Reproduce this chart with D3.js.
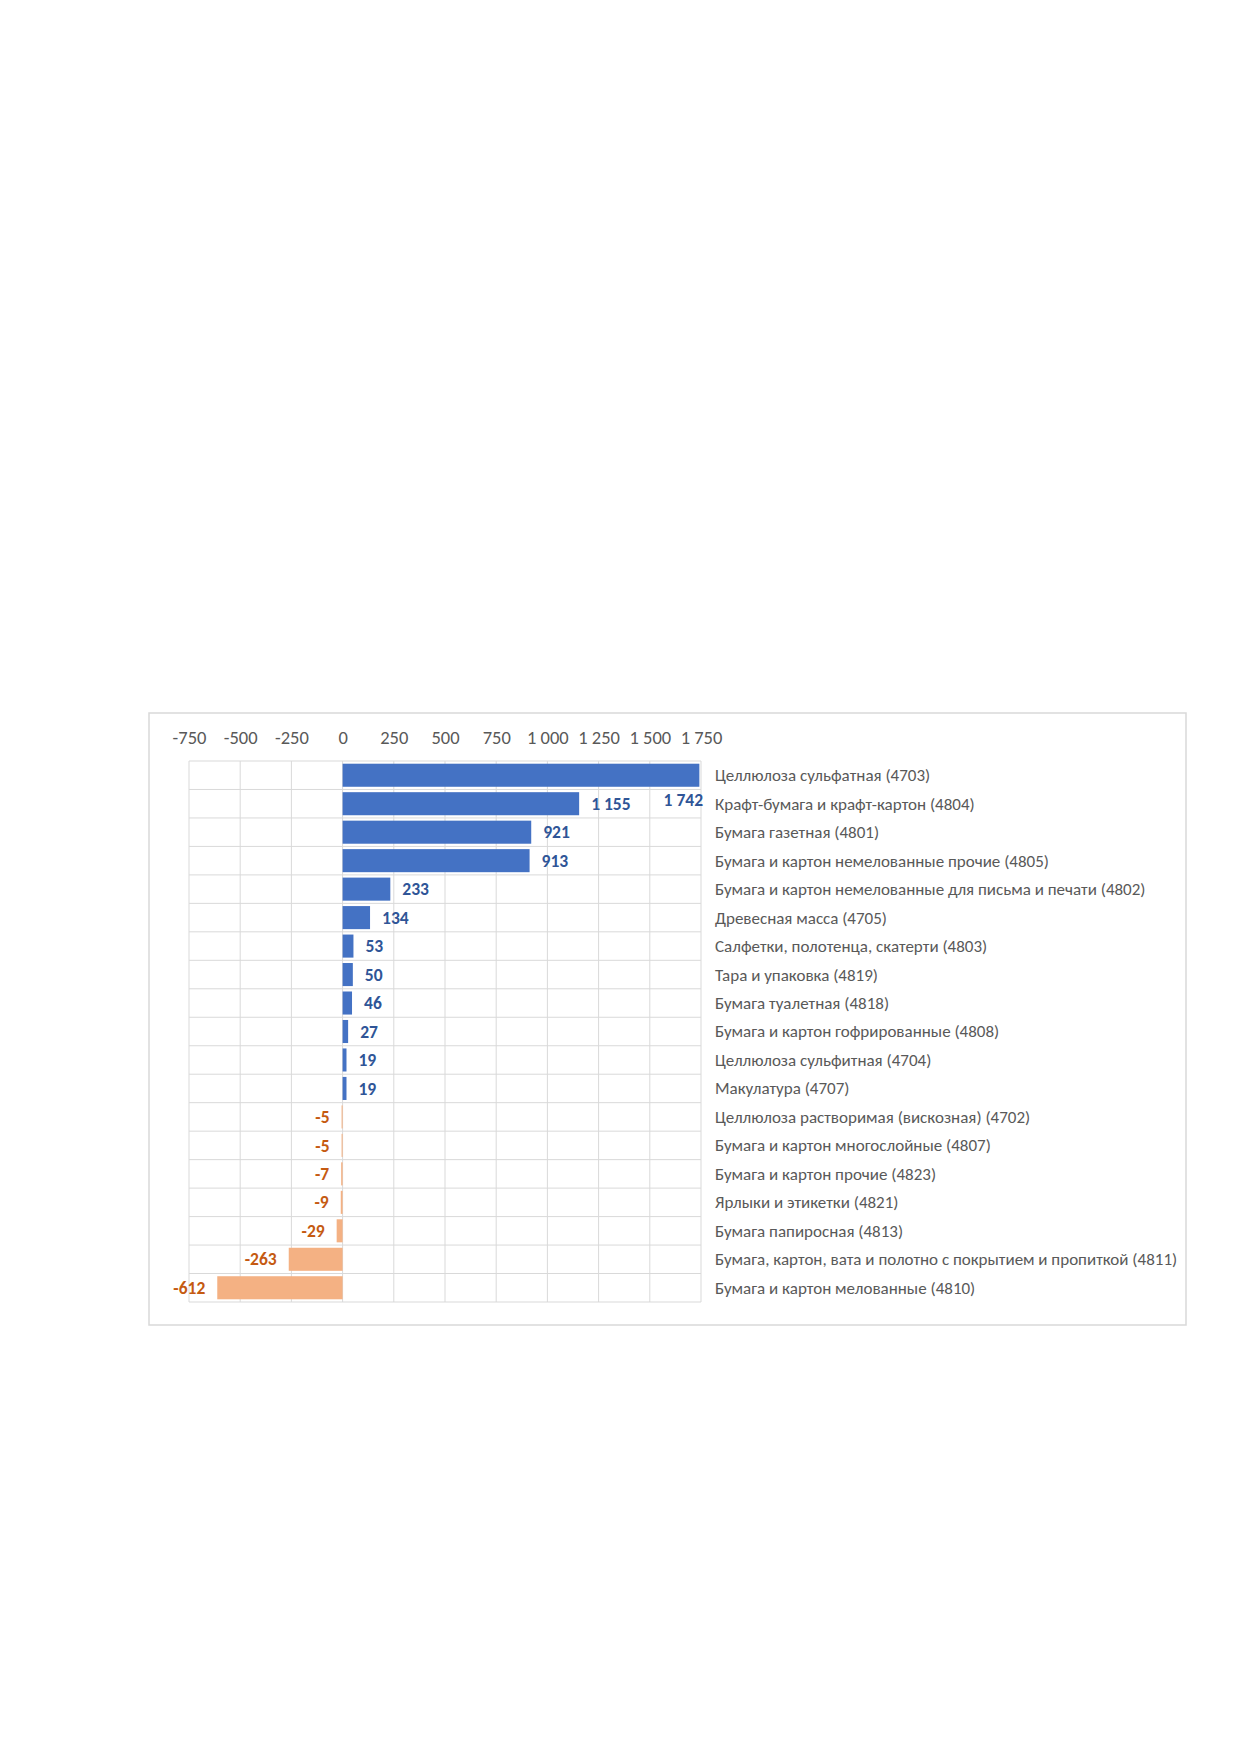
<!DOCTYPE html>
<html>
<head>
<meta charset="utf-8">
<script src="https://cdn.jsdelivr.net/npm/d3@7"></script>
<style>
	body { margin: 0; background: #fff; }
	svg text { font-family: Carlito, Calibri, Lato, sans-serif; }
</style>
</head>
<body>
<svg id="chart" width="1240" height="1754"></svg>
<script>
// categories top to bottom
const categories = [
	"Целлюлоза сульфатная (4703)",
	"Крафт-бумага и крафт-картон (4804)",
	"Бумага газетная (4801)",
	"Бумага и картон немелованные прочие (4805)",
	"Бумага и картон немелованные для письма и печати (4802)",
	"Древесная масса (4705)",
	"Салфетки, полотенца, скатерти (4803)",
	"Тара и упаковка (4819)",
	"Бумага туалетная (4818)",
	"Бумага и картон гофрированные (4808)",
	"Целлюлоза сульфитная (4704)",
	"Макулатура (4707)",
	"Целлюлоза растворимая (вискозная) (4702)",
	"Бумага и картон многослойные (4807)",
	"Бумага и картон прочие (4823)",
	"Ярлыки и этикетки (4821)",
	"Бумага папиросная (4813)",
	"Бумага, картон, вата и полотно с покрытием и пропиткой (4811)",
	"Бумага и картон мелованные (4810)",
];
const values = [1742, 1155, 921, 913, 233, 134, 53, 50, 46, 27, 19, 19, -5, -5, -7, -9, -29, -263, -612];
const tickValues = [-750, -500, -250, 0, 250, 500, 750, 1000, 1250, 1500, 1750];

const svg = d3.select("svg#chart");

// number format with a space as thousands separator, like "1 742"
const locale = d3.formatLocale({ decimal: ",", thousands: "\u00a0", grouping: [3], currency: ["", ""], minus: "-" });
const fmt = locale.format(",d");

const frame = { x: 149, y: 713, w: 1037, h: 612 };
const plot = { left: 189, right: 701, top: 761, bottom: 1302 };
const pad = 0.19;

svg.append("rect")
	.attr("x", frame.x)
	.attr("y", frame.y)
	.attr("width", frame.w)
	.attr("height", frame.h)
	.attr("fill", "#fff")
	.attr("stroke", "#d9d9d9")
	.attr("stroke-width", 1.5);

const x = d3.scaleLinear()
	.domain([tickValues[0], tickValues[tickValues.length - 1]])
	.range([plot.left, plot.right]);

const y = d3.scaleBand()
	.domain(categories)
	.range([plot.top, plot.bottom])
	.paddingInner(pad)
	.paddingOuter(pad / 2);

const grid = svg.append("g");

// vertical gridlines
grid.selectAll("line.v")
	.data(tickValues)
	.join("line")
	.attr("class", "v")
	.attr("x1", (d) => x(d))
	.attr("x2", (d) => x(d))
	.attr("y1", plot.top)
	.attr("y2", plot.bottom)
	.attr("stroke", "#d9d9d9")
	.attr("stroke-width", 1);

// horizontal lines between category rows
const rowEdges = categories.map((c) => y(c) - (y.step() * pad) / 2);
rowEdges.push(plot.bottom);
grid.selectAll("line.h")
	.data(rowEdges)
	.join("line")
	.attr("class", "h")
	.attr("x1", plot.left)
	.attr("x2", plot.right)
	.attr("y1", (d) => d)
	.attr("y2", (d) => d)
	.attr("stroke", "#d9d9d9")
	.attr("stroke-width", 1);

// top axis, labels only
const topAxis = d3.axisTop(x).tickValues(tickValues).tickFormat(fmt).tickSize(0).tickPadding(0);
const axisG = svg.append("g")
	.attr("transform", `translate(0,${744})`)
	.call(topAxis);
axisG.select(".domain").remove();
axisG.selectAll("text")
	.attr("fill", "#595959")
	.style("font-size", "18.5px");

// bars
svg.append("g")
	.selectAll("rect")
	.data(values)
	.join("rect")
	.attr("x", (d) => x(Math.min(0, d)))
	.attr("y", (d, i) => y(categories[i]))
	.attr("width", (d) => Math.abs(x(d) - x(0)))
	.attr("height", y.bandwidth())
	.attr("fill", (d) => (d >= 0 ? "#4472c4" : "#f4b183"));

// data labels, outside end
const gap = 12;
svg.append("g")
	.selectAll("text")
	.data(values)
	.join("text")
	.each(function (d, i) {
		const t = d3.select(this);
		let cy = y(categories[i]) + y.bandwidth() / 2;
		let px = d >= 0 ? x(d) + gap : x(d) - gap;
		let anchor = d >= 0 ? "start" : "end";
		// label that does not fit inside the plot gets pushed in, as in Excel
		if (d >= 0 && x(d) + gap + 30 > plot.right) {
			px = plot.right + 2;
			anchor = "end";
			cy += y.step() * 0.85;
		}
		t.attr("x", px)
			.attr("y", cy)
			.attr("dy", "0.35em")
			.attr("text-anchor", anchor);
	})
	.text((d) => fmt(d))
	.attr("fill", (d) => (d >= 0 ? "#2f5597" : "#c55a11"))
	.style("font-weight", "bold")
	.style("font-size", "17.5px");

// category labels on the right
svg.append("g")
	.selectAll("text")
	.data(categories)
	.join("text")
	.attr("x", 715)
	.attr("y", (d) => y(d) + y.bandwidth() / 2)
	.attr("dy", "0.35em")
	.text((d) => d)
	.attr("fill", "#595959")
	.style("font-size", "17px");
</script>
</body>
</html>
